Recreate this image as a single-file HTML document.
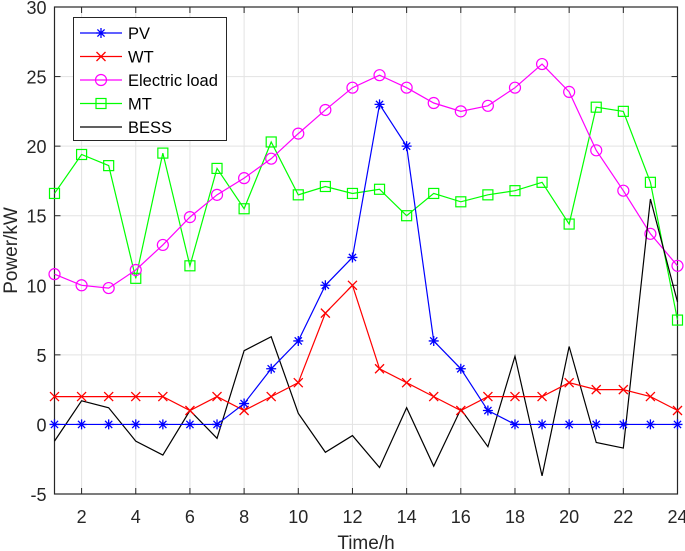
<!DOCTYPE html>
<html><head><meta charset="utf-8">
<style>
html,body{margin:0;padding:0;background:#fff;}
svg{display:block;font-family:"Liberation Sans",Arial,sans-serif;}
</style></head>
<body>
<svg id="chart" width="685" height="551" viewBox="0 0 685 551" xmlns="http://www.w3.org/2000/svg"></svg>
<script>
const hours = [1,2,3,4,5,6,7,8,9,10,11,12,13,14,15,16,17,18,19,20,21,22,23,24];
const pvValues = [0,0,0,0,0,0,0,1.5,4,6,10,12,23,20,6,4,1,0,0,0,0,0,0,0];
const wtValues = [2,2,2,2,2,1,2,1,2,3,8,10,4,3,2,1,2,2,2,3,2.5,2.5,2,1];
const loadValues = [10.8,10,9.8,11.1,12.9,14.9,16.5,17.7,19.1,20.9,22.6,24.2,25.1,24.2,23.1,22.5,22.9,24.2,25.9,23.9,19.7,16.8,13.7,11.4];
const mtValues = [16.6,19.4,18.6,10.5,19.5,11.4,18.4,15.5,20.3,16.5,17.1,16.6,16.9,15,16.6,16,16.5,16.8,17.4,14.4,22.8,22.5,17.4,7.5];
const bessValues = [-1.2,1.7,1.2,-1.2,-2.2,1,-1,5.3,6.3,0.8,-2,-0.8,-3.1,1.2,-3,1.1,-1.6,4.9,-3.7,5.6,-1.3,-1.7,16.2,8.8];
const xTicks = [2,4,6,8,10,12,14,16,18,20,22,24];
const yTicks = [-5,0,5,10,15,20,25,30];

const L=54.5,R=677.5,T=7,B=494;
const xMin=1,xMax=24,yMin=-5,yMax=30;
const X=v=>L+(v-xMin)/(xMax-xMin)*(R-L);
const Y=v=>B-(v-yMin)/(yMax-yMin)*(B-T);
const svg=document.getElementById('chart');
const NS='http://www.w3.org/2000/svg';
function mk(tag,attrs,parent){const e=document.createElementNS(NS,tag);for(const k in attrs)e.setAttribute(k,attrs[k]);(parent||svg).appendChild(e);return e;}

const grid=mk('g',{});


xTicks.forEach(t=>{mk('line',{x1:X(t),x2:X(t),y1:T,y2:B,stroke:'#e3e3e3','stroke-width':1},grid);});
yTicks.forEach(t=>{mk('line',{x1:L,x2:R,y1:Y(t),y2:Y(t),stroke:'#e3e3e3','stroke-width':1},grid);});

const ax=mk('g',{});


xTicks.forEach(t=>{
  mk('line',{x1:X(t),x2:X(t),y1:B,y2:B-6,stroke:'#262626'},ax);
  mk('line',{x1:X(t),x2:X(t),y1:T,y2:T+6,stroke:'#262626'},ax);
  const tx=mk('text',{x:X(t),y:523,'text-anchor':'middle','font-size':18,fill:'#262626'},ax);
  tx.textContent=t;
  
  
});
yTicks.forEach(t=>{
  mk('line',{x1:L,x2:L+6,y1:Y(t),y2:Y(t),stroke:'#262626'},ax);
  mk('line',{x1:R,x2:R-6,y1:Y(t),y2:Y(t),stroke:'#262626'},ax);
  const ty=mk('text',{x:L-8,y:Y(t)+7,'text-anchor':'end','font-size':18,fill:'#262626'},ax);
  ty.textContent=t;
  
  
});
mk('rect',{x:L,y:T,width:R-L,height:B-T,fill:'none',stroke:'#262626','stroke-width':1.2},ax);
const xt=mk('text',{x:(L+R)/2,y:549,'text-anchor':'middle','font-size':19,fill:'#262626'});
xt.textContent='Time/h';


const yt=mk('text',{x:0,y:0,'text-anchor':'middle','font-size':19,fill:'#262626',transform:'translate(17,'+((T+B)/2)+') rotate(-90)'});
yt.textContent='Power/kW';



function marker(type,x,y,c,g){
  if(type==='star'){
    mk('path',{d:`M${x-5} ${y}H${x+5}M${x} ${y-5}V${y+5}M${x-3.6} ${y-3.6}L${x+3.6} ${y+3.6}M${x-3.6} ${y+3.6}L${x+3.6} ${y-3.6}`,stroke:c,'stroke-width':1.3,fill:'none'},g);
  }else if(type==='x'){
    mk('path',{d:`M${x-4.5} ${y-4.5}L${x+4.5} ${y+4.5}M${x-4.5} ${y+4.5}L${x+4.5} ${y-4.5}`,stroke:c,'stroke-width':1.3,fill:'none'},g);
  }else if(type==='circle'){
    mk('circle',{cx:x,cy:y,r:5.5,stroke:c,'stroke-width':1.2,fill:'none'},g);
  }else if(type==='square'){
    mk('rect',{x:x-5,y:y-5,width:10,height:10,stroke:c,'stroke-width':1.2,fill:'none'},g);
  }
}
function series(name,vals,c,m){
  const g=mk('g',{});
  
  
  mk('polyline',{points:vals.map((v,i)=>X(hours[i])+','+Y(v)).join(' '),fill:'none',stroke:c,'stroke-width':1.2},g);
  if(m) vals.forEach((v,i)=>marker(m,X(hours[i]),Y(v),c,g));
}
series('series-mt',mtValues,'#00ff00','square');
series('series-load',loadValues,'#ff00ff','circle');
series('series-bess',bessValues,'#000000',null);
series('series-wt',wtValues,'#ff0000','x');
series('series-pv',pvValues,'#0000ff','star');

const lg=mk('g',{});


mk('rect',{x:73.5,y:17.5,width:153,height:123,fill:'#fff',stroke:'#262626','stroke-width':1},lg);
const items=[['PV','#0000ff','star'],['WT','#ff0000','x'],['Electric load','#ff00ff','circle'],['MT','#00ff00','square'],['BESS','#000000',null]];
items.forEach((it,i)=>{
  const y=33+i*23.5;
  const e=mk('g',{},lg);
  
  
  mk('line',{x1:80,x2:122,y1:y,y2:y,stroke:it[1],'stroke-width':1.2},e);
  if(it[2]) marker(it[2],101,y,it[1],e);
  const t=mk('text',{x:128,y:y+6,'font-size':16.5,fill:'#000'},e);
  t.textContent=it[0];
});
</script>
</body></html>
